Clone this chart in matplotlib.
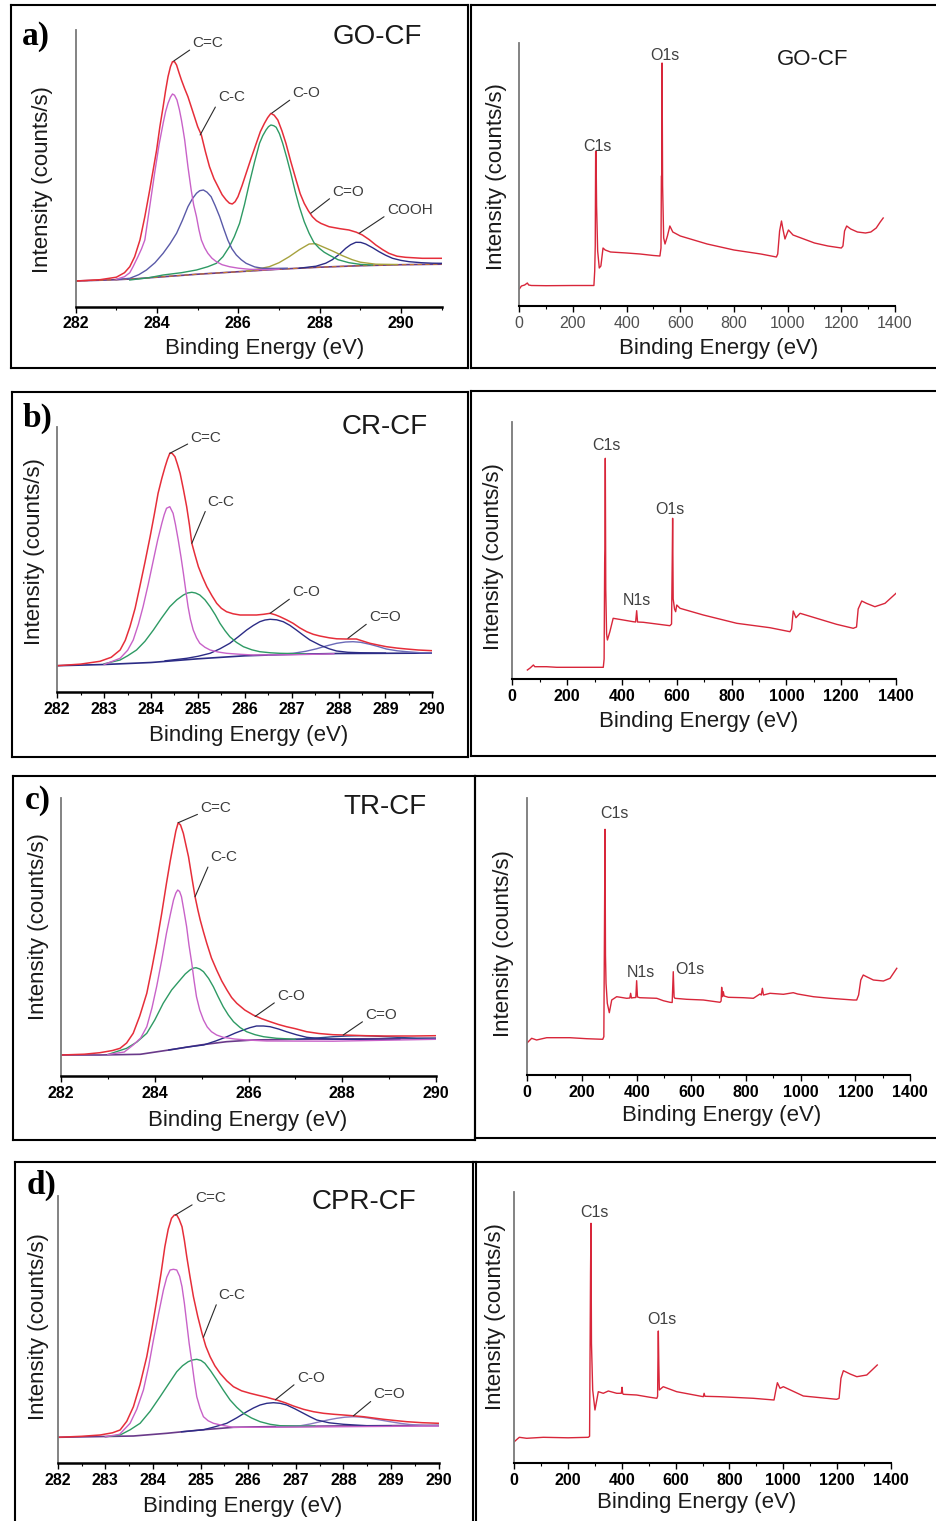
import matplotlib
matplotlib.use('Agg')
import matplotlib.pyplot as plt
from matplotlib.lines import Line2D

plt.rcParams['font.family'] = ['Liberation Sans', 'DejaVu Sans']

# ---------------- data (intensity in arbitrary units) ----------------
# Panel a: GO-CF C1s
A_BASE_E = [282, 283, 283.5, 284, 284.5, 285, 286, 287, 288, 289, 290, 291]
A_BASE_I = [25.7, 27, 28, 29.5, 31, 32.5, 35, 37.5, 39.5, 41, 42, 42.5]
A_ENV_E = [282.0, 282.6, 283.0, 283.2, 283.33, 283.45, 283.58, 283.70, 283.82, 283.99, 284.07, 284.15,
           284.21, 284.27, 284.33, 284.38, 284.43, 284.48, 284.54, 284.60, 284.68, 284.76, 284.84,
           284.92, 285.00, 285.09, 285.19, 285.29, 285.40, 285.50, 285.60, 285.70, 285.78, 285.85,
           285.92, 285.99, 286.09, 286.19, 286.31, 286.44, 286.54, 286.64, 286.72, 286.80, 286.88,
           286.97, 287.07, 287.17, 287.29, 287.42, 287.52, 287.62, 287.72, 287.82, 287.92, 288.03,
           288.23, 288.50, 288.72, 288.90, 289.05, 289.22, 289.38, 289.55, 289.70, 289.90, 290.11,
           290.52, 291.0]
A_ENV_I = [25.7, 27, 29.5, 34, 40, 50, 66.7, 90, 116.7, 156.7, 180, 200,
           216, 230, 240, 245, 245, 241.7, 234, 226.7, 218, 210, 200,
           190, 180, 171.7, 155, 140, 128, 120, 112, 106.7, 103.5, 102.7,
           105, 110, 121, 133.3, 148, 163.3, 175, 183.3, 189, 193.3, 191.5,
           186.7, 176, 163.3, 145, 126.7, 113, 103.3, 96, 90, 86, 83.3,
           80, 78, 76.7, 74.5, 71.7, 67, 61.7, 57, 53.4, 50.5, 49.4,
           48.4, 48.4]
A_CC1_E = [283.0, 283.2, 283.33, 283.41, 283.53, 283.62, 283.70, 283.82, 283.94, 284.05, 284.15,
           284.21, 284.27, 284.33, 284.38, 284.43, 284.49, 284.55, 284.60, 284.64, 284.68, 284.76,
           284.84, 284.90, 284.97, 285.03, 285.09, 285.17, 285.25, 285.35, 285.46, 285.60, 285.78,
           286.00, 286.27, 286.6, 287.0]
A_CC1_I = [27.5, 30, 34, 40, 50, 58, 66.7, 100, 133.4, 162, 183.4,
           195, 203.4, 209.5, 212.7, 211.5, 206.7, 197, 186.7, 177, 166.7, 140,
           116.7, 102, 90, 77, 66.7, 59, 53.4, 48.5, 45, 42, 40,
           38.5, 37.4, 37, 37.5]
A_CC2_E = [283.0, 283.33, 283.55, 283.74, 283.95, 284.15, 284.32, 284.48, 284.62, 284.76, 284.87,
           284.97, 285.05, 285.14, 285.23, 285.33, 285.43, 285.54, 285.64, 285.74, 285.84, 285.95,
           286.07, 286.19, 286.40, 286.60, 286.9, 287.2]
A_CC2_I = [27.2, 28.4, 32, 36.7, 44, 53.4, 63, 73.4, 86, 100, 108,
           113.4, 116, 116.7, 114.5, 110, 101, 90, 78, 66.7, 58, 51.7,
           47, 43.4, 39.8, 38.4, 38.3, 38.5]
A_CO_E = [283.33, 283.8, 284.15, 284.6, 284.97, 285.25, 285.46, 285.62, 285.78, 285.90, 286.03,
          286.15, 286.27, 286.40, 286.52, 286.60, 286.68, 286.74, 286.80, 286.87, 286.93, 287.01,
          287.09, 287.19, 287.29, 287.40, 287.50, 287.62, 287.74, 287.86, 287.99, 288.11, 288.23,
          288.45, 288.72, 289.0, 289.3]
A_CO_I = [26.7, 29, 31.7, 34, 36.7, 40, 43.4, 50, 60, 70, 83.4,
          102, 123.4, 145, 163.4, 171, 176.7, 180, 181.7, 181, 179.4, 173,
          163.4, 149, 133.4, 115, 100, 85, 73.4, 64, 58.4, 54.5, 51.7,
          47, 44, 42.3, 41.6]
A_CDO_E = [286.2, 286.76, 287.0, 287.25, 287.50, 287.74, 287.90, 288.07, 288.30, 288.56, 288.80,
           289.0, 289.38, 289.9]
A_CDO_I = [35.5, 40, 44, 50, 57, 62.7, 63, 60, 56, 51, 47, 44.5, 42.5, 42.2]
A_COOH_E = [287.5, 287.91, 288.15, 288.31, 288.50, 288.64, 288.76, 288.89, 289.01, 289.13, 289.30,
            289.46, 289.62, 289.79, 290.0, 290.2, 290.5, 290.77, 291.0]
A_COOH_I = [38.5, 40.5, 43.5, 47, 53, 58.4, 62, 64.4, 64.3, 62.7, 59,
            55, 51.5, 48.4, 46.3, 45, 44, 43.5, 43.4]

# Panel b: CR-CF C1s
B_BASE_E = [282, 283, 284, 285, 286, 287, 288, 290]
B_BASE_I = [26.6, 27.8, 29.8, 33.5, 36.5, 38, 38.8, 39.2]
B_ENV_E = [282.0, 282.5, 282.91, 283.15, 283.34, 283.45, 283.55, 283.66, 283.76, 283.87, 283.98,
           284.07, 284.15, 284.23, 284.30, 284.35, 284.40, 284.45, 284.51, 284.56, 284.62, 284.69,
           284.76, 284.82, 284.87, 284.94, 285.01, 285.10, 285.19, 285.30, 285.40, 285.50, 285.61,
           285.75, 285.90, 286.10, 286.25, 286.40, 286.54, 286.65, 286.75, 286.89, 287.03, 287.17,
           287.32, 287.46, 287.60, 287.80, 287.96, 288.15, 288.38, 288.50, 288.67, 288.85, 289.02,
           289.25, 289.45, 289.70, 290.0]
B_ENV_I = [26.6, 28.2, 31, 35, 42.3, 52, 65.6, 84, 105.6, 130, 155.6,
           178, 199, 214, 225.6, 233, 239, 239, 235.6, 228.5, 219, 203,
           185.6, 167, 149, 137, 125.6, 115, 105.6, 96.5, 89, 84, 80.6,
           78.5, 77.3, 77.3, 77.3, 78, 79, 77.5, 75.6, 72.5, 69, 64.5,
           60.6, 58, 56.3, 54.5, 53.5, 53.3, 53.3, 51.5, 49, 47.2, 45.6,
           44.2, 43.3, 42.3, 41.6]
B_CC1_E = [283.0, 283.34, 283.50, 283.62, 283.73, 283.83, 283.94, 284.05, 284.14, 284.23, 284.28,
           284.33, 284.40, 284.47, 284.52, 284.58, 284.64, 284.69, 284.74, 284.79, 284.84, 284.90,
           284.97, 285.04, 285.15, 285.26, 285.43, 285.61, 285.9, 286.18, 287.0, 287.9]
B_CC1_I = [27.8, 34, 42, 52.3, 68, 85.6, 108, 132.3, 152, 169, 177.5,
           184, 185.6, 179, 168, 152.3, 135, 119, 102, 85.6, 73, 62.3,
           54.5, 49, 45, 42.3, 40.3, 39, 38, 37.3, 37.5, 38.5]
B_CC2_E = [283.0, 283.34, 283.50, 283.69, 283.87, 284.05, 284.22, 284.40, 284.55, 284.69, 284.78,
           284.87, 284.95, 285.04, 285.15, 285.26, 285.37, 285.47, 285.58, 285.68, 285.82, 285.97,
           286.15, 286.32, 286.55, 286.75, 287.3]
B_CC2_I = [28.5, 32.3, 36.5, 42.3, 51, 62.3, 74, 85.6, 92.5, 97.3, 99.3,
           100, 99.3, 97.3, 92.5, 85.6, 77.5, 69, 61.5, 55.6, 50, 45.6,
           42.5, 40.6, 39.5, 39, 38.5]
B_CO_E = [284.3, 284.76, 285.0, 285.26, 285.47, 285.68, 285.86, 286.04, 286.18, 286.32, 286.43,
          286.54, 286.68, 286.82, 286.96, 287.10, 287.25, 287.39, 287.60, 287.80, 287.96, 288.2,
          288.45, 289.0]
B_CO_I = [31.5, 34, 36, 39, 43.5, 49, 55.5, 62.3, 66.8, 70.6, 72.3,
          73, 72.5, 70.6, 67, 62.3, 57, 52.3, 47.3, 43.5, 41.3, 40,
          39.6, 39.2]
B_CDO_E = [286.5, 287.03, 287.3, 287.53, 287.75, 287.96, 288.15, 288.31, 288.47, 288.67, 288.85,
           289.02, 289.25, 289.45, 289.74, 290.0]
B_CDO_I = [37.3, 39, 41, 43.5, 46.5, 49, 50.3, 50.6, 50, 48, 45.7, 43.3, 41.5, 40.6, 39.6, 39.4]

# Panel c: TR-CF C1s
C_BASE_E = [282, 282.83, 283.69, 284.40, 284.97, 285.53, 286.10, 286.97, 290]
C_BASE_I = [21, 21, 21.7, 26.7, 31, 34.3, 36, 36.7, 37.7]
C_ENV_E = [282.0, 282.5, 282.83, 283.1, 283.26, 283.40, 283.54, 283.68, 283.83, 283.94, 284.04,
           284.15, 284.25, 284.33, 284.40, 284.45, 284.50, 284.55, 284.61, 284.66, 284.72, 284.79,
           284.86, 284.92, 284.97, 285.04, 285.11, 285.21, 285.32, 285.43, 285.54, 285.64, 285.75,
           285.92, 286.10, 286.28, 286.46, 286.64, 286.81, 287.0, 287.24, 287.50, 287.80, 288.02,
           288.5, 288.88, 289.5, 290.0]
C_ENV_I = [21, 21.8, 23.3, 25.5, 27.7, 33, 42.7, 60, 82.7, 108, 132.7,
           163, 192.7, 215, 232.7, 245, 253.3, 251, 242.7, 232, 219.3, 199,
           179.3, 166, 156, 144, 132.7, 118, 106, 95, 86, 78.5, 72.7,
           66, 61, 57.3, 54.3, 51.5, 49.3, 47.3, 44.3, 42.5, 41.3, 41,
           40.3, 40, 40, 40.3]
C_CC1_E = [283.0, 283.35, 283.54, 283.70, 283.83, 283.94, 284.04, 284.15, 284.25, 284.33, 284.40,
           284.45, 284.49, 284.53, 284.57, 284.62, 284.68, 284.73, 284.79, 284.84, 284.89, 284.96,
           285.04, 285.12, 285.21, 285.32, 285.46, 285.7, 285.96, 286.39, 287.81, 290.0]
C_CC1_I = [21.5, 24, 31, 38, 49.3, 68, 89.3, 116, 142.7, 161, 176,
           183, 186, 184.5, 179.3, 166, 149.3, 131, 112.7, 95, 79.3, 66,
           56, 49, 44.3, 41, 38.7, 37, 36, 35, 34.8, 36.7]
C_CC2_E = [283.0, 283.40, 283.62, 283.83, 284.00, 284.18, 284.36, 284.54, 284.65, 284.75, 284.82,
           284.88, 284.96, 285.04, 285.15, 285.25, 285.35, 285.46, 285.57, 285.68, 285.82, 285.96,
           286.14, 286.32, 286.6, 287.0]
C_CC2_I = [21.5, 27.7, 34, 42.7, 56, 72.7, 86, 96, 102, 106, 107.8,
           108.3, 107, 104.3, 97.5, 89.3, 79.5, 69.3, 61, 54.3, 48.5, 44.3,
           41.3, 39.3, 37.7, 36.8]
C_CO_E = [284.3, 284.7, 285.04, 285.30, 285.54, 285.72, 285.89, 286.03, 286.17, 286.32, 286.46,
          286.64, 286.81, 287.02, 287.24, 287.5, 287.8, 288.17, 289.23]
C_CO_I = [26, 29, 31, 35, 39.3, 43, 46, 48.3, 50, 50, 49.3,
          47, 44.3, 41.3, 38.7, 37.5, 36.8, 36.7, 36.7]
C_CDO_E = [287.0, 287.4, 287.81, 288.1, 288.38, 288.65, 288.95, 289.25, 289.59, 290.0]
C_CDO_I = [36.7, 37.8, 39.3, 40, 40.3, 40, 39.3, 38.5, 37.7, 37.7]

# Panel d: CPR-CF C1s
D_BASE_E = [282, 283.59, 284.29, 284.99, 285.69, 286.39, 287.79, 290]
D_BASE_I = [26, 27.3, 30, 33.3, 36, 36.6, 37.3, 38]
D_ENV_E = [282.0, 282.5, 282.89, 283.15, 283.31, 283.45, 283.59, 283.73, 283.87, 283.98, 284.08,
           284.17, 284.25, 284.32, 284.39, 284.45, 284.50, 284.55, 284.61, 284.66, 284.71, 284.78,
           284.85, 284.94, 285.03, 285.11, 285.20, 285.30, 285.41, 285.55, 285.69, 285.86, 286.04,
           286.21, 286.39, 286.50, 286.60, 286.78, 286.95, 287.16, 287.37, 287.58, 287.80, 288.0,
           288.21, 288.42, 288.63, 288.84, 289.08, 289.33, 289.65, 290.0]
D_ENV_I = [26, 27, 28.3, 30.5, 33.3, 42, 56.6, 79, 106.6, 135, 163.3,
           190, 216.6, 234, 245, 248.3, 248.3, 244, 236.6, 223, 206.6, 186,
           166.6, 147, 130, 117, 106.6, 97.5, 90, 82.5, 76.6, 72.5, 70,
           68, 66, 64.5, 63.3, 60.5, 57.3, 54, 51.6, 50, 49, 48.3,
           47.5, 46.6, 45.3, 44, 42.8, 41.6, 40.6, 40]
D_CC1_E = [283.0, 283.3, 283.52, 283.66, 283.80, 283.91, 284.01, 284.12, 284.22, 284.29, 284.36,
           284.43, 284.50, 284.56, 284.61, 284.66, 284.71, 284.76, 284.82, 284.87, 284.92, 284.99,
           285.06, 285.16, 285.27, 285.45, 285.69, 286.39, 290.0]
D_CC1_I = [26.5, 29, 40, 54, 73.3, 97, 123.3, 150, 173.3, 186, 193.3,
           194, 193.3, 187, 176.6, 160, 140, 120, 100, 82, 66.6, 55,
           46.6, 42.5, 40, 38, 36, 36, 37.3]
D_CC2_E = [283.0, 283.31, 283.52, 283.73, 283.94, 284.15, 284.33, 284.50, 284.62, 284.74, 284.83,
           284.92, 285.01, 285.09, 285.21, 285.34, 285.48, 285.62, 285.76, 285.90, 286.07, 286.25,
           286.46, 286.67, 287.0, 287.4]
D_CC2_I = [26.5, 28.3, 33.5, 40, 52, 66.6, 79.5, 91.6, 97.5, 101.6, 103.3,
           104, 102.8, 100, 92.5, 83.3, 73, 63.3, 56, 50, 45.3, 41.6,
           39, 37.6, 37.2, 37.2]
D_CO_E = [284.6, 285.06, 285.30, 285.55, 285.76, 285.97, 286.11, 286.25, 286.39, 286.53, 286.67,
          286.81, 286.98, 287.16, 287.30, 287.44, 287.7, 288.0, 288.49, 289.0]
D_CO_I = [31.5, 33.5, 36.5, 40, 45.5, 51.6, 55.3, 58.3, 60, 60.6, 60,
          58.3, 54.5, 50, 46.5, 43.3, 40.5, 39, 37.6, 37.5]
D_CDO_E = [286.6, 287.09, 287.30, 287.51, 287.70, 287.86, 288.03, 288.21, 288.38, 288.56, 288.77,
           288.98, 289.19, 289.39, 289.74, 290.0]
D_CDO_I = [36.8, 37.5, 39.3, 41.6, 43.6, 45, 46.1, 46.6, 46.2, 45, 43.3,
           41.6, 40, 38.8, 37.7, 37.5]

# Survey spectra
SA_E = [0, 8, 20, 30, 35, 45, 100, 200, 278, 281, 283, 284.5, 286, 288, 292, 298, 304, 312, 320, 340,
        400, 450, 500, 524, 528, 529.5, 531, 532, 534, 538, 543, 552, 561, 572, 600, 650, 700, 800,
        900, 958, 963, 970, 977, 983, 990, 997, 1003, 1020, 1100, 1150, 1200, 1206, 1212, 1220, 1235,
        1260, 1290, 1310, 1330, 1345, 1356]
SA_I = [17, 20, 21, 23, 21, 20.5, 20.3, 20.5, 20.5, 35, 60, 154, 155, 100, 55, 38, 40, 58, 56, 54,
        53, 52, 50.5, 50, 58, 130, 130, 243, 120, 68, 62, 70, 80, 74, 70, 66, 62, 56,
        52, 49, 52, 75, 85, 76, 67, 72, 76, 71, 63, 60, 58, 60, 75, 80, 77,
        74, 73, 74, 78, 84, 88]
SB_E = [55, 65, 77, 82, 125, 162, 250, 332, 335, 337, 338, 339.3, 341, 344, 347, 356, 368, 405, 441,
        450, 453.8, 457, 478, 575, 581, 583.5, 585, 587, 592, 596, 600, 612, 697, 819, 940, 1013, 1019,
        1025, 1035, 1050, 1183, 1244, 1256, 1262, 1275, 1292, 1323, 1360, 1400]
SB_I = [9, 11, 14, 12.3, 12.3, 11.7, 11.7, 11.7, 20, 116, 130, 220.7, 90, 45, 39, 47.3, 60.7, 59, 57.3,
        57, 68.3, 57, 56.7, 53.3, 55, 117, 160.7, 80, 70, 67.3, 74, 70.7, 64, 55.7, 51.3, 47.3, 50,
        68, 61.3, 65.7, 54.7, 50.7, 52, 70, 78, 75.7, 72.3, 75.7, 85.7]
SC_E = [0, 16, 34, 71, 156, 217, 276, 280, 282.5, 284.3, 286, 288, 292.7, 300, 308.8, 327, 363.7, 375,
        378, 381, 387, 397, 400, 403, 411.6, 473.5, 497.6, 522, 530, 534, 537, 540, 583, 644, 705, 709,
        711, 714, 717, 720, 735.5, 790, 827, 851, 856, 860, 864, 888, 937, 973, 989, 1046.5, 1107.5,
        1193, 1205, 1212, 1220, 1229, 1241, 1266, 1302.6, 1327, 1351.6]
SC_I = [32.3, 36.7, 35, 37.3, 37.3, 36.3, 35.7, 38.3, 155, 245.7, 120, 91.7, 71.7, 62.3, 75, 78.3, 76.7, 77,
        81.7, 77, 77.3, 77.5, 94.3, 78, 77.3, 76.7, 74.3, 72.7, 72.5, 103.3, 78, 76.7, 75.7, 75, 72.7, 74,
        87.7, 78.3, 83.3, 79, 77.7, 77.3, 76.7, 81, 80, 86.7, 80, 81.7, 80.7, 82.3, 81, 78.3, 76.7,
        75, 75, 80, 95, 100, 98.3, 95, 94, 96.7, 106.7]
SD_E = [0, 10, 18.6, 46, 108, 200, 275, 280, 283.5, 285.3, 287, 291.6, 300, 312.5, 331, 349.7, 381, 398,
        400.7, 403, 405.5, 455, 505, 530, 533, 534.5, 535.7, 537.5, 539.5, 554, 604, 703, 706, 709, 765,
        889, 966, 972, 978.5, 988.5, 1000.7, 1075, 1199, 1208, 1215, 1224, 1249, 1274, 1311, 1350]
SD_I = [21.6, 24, 26, 25, 26, 25.5, 26, 27, 190, 240, 120, 73.3, 53.3, 71.6, 70, 72.3, 70, 70,
        76, 70, 69, 68.3, 66, 65, 67, 110, 132.3, 100, 73.3, 76.6, 71.6, 66.6, 70, 67, 66.6,
        65, 63.3, 72, 80.6, 75, 76.6, 67.3, 64, 65, 85, 92.6, 89.3, 86.6, 88.3, 98.3]

HR_TICKS_AC = [282, 284, 286, 288, 290]
HR_TICKS_BD = [282, 283, 284, 285, 286, 287, 288, 289, 290]
SURVEY_TICKS = [0, 200, 400, 600, 800, 1000, 1200, 1400]

# ---------------- figure helpers ----------------
W, H = 937, 1521
fig = plt.figure(figsize=(W / 100, H / 100), dpi=100)
fig.patch.set_facecolor('white')


def add_ax(l, t, r, b):
    ax = fig.add_axes([l / W, 1 - b / H, (r - l) / W, (b - t) / H])
    ax.set_ylim(0, b - t)
    ax.patch.set_alpha(0)
    return ax


def ftext(x, y, s, **kw):
    kw.setdefault('va', 'center')
    return fig.text(x / W, 1 - y / H, s, **kw)


def frame(l, t, r, b, lw=1.5):
    for xs, ys in [([l, r], [t, t]), ([l, r], [b, b]), ([l, l], [t, b]), ([r, r], [t, b])]:
        fig.add_artist(Line2D([x / W for x in xs], [1 - y / H for y in ys],
                              color='black', lw=lw, transform=fig.transFigure))


def style(ax, xlim, ticks, minor, bold=True, lab_color='black', bottom_lw=1.8):
    ax.set_xlim(*xlim)
    for s in ['top', 'right']:
        ax.spines[s].set_visible(False)
    ax.spines['left'].set_color('#7a7a7a')
    ax.spines['left'].set_linewidth(1.3)
    ax.spines['bottom'].set_color('black')
    ax.spines['bottom'].set_linewidth(bottom_lw)
    ax.set_yticks([])
    ax.set_xticks(ticks, [str(t) for t in ticks], fontweight='bold' if bold else 'normal',
                  color=lab_color, fontsize=11.5)
    ax.set_xticks(minor, minor=True)
    ax.tick_params(axis='x', which='major', direction='out', length=4, width=1, pad=3)
    ax.tick_params(axis='x', which='minor', direction='out', length=2.5, width=0.8)


LAB_KW = dict(fontsize=11, color='#3c3c3c', ha='left', va='center')


def label(ax, s, tip, txt):
    ax.annotate(s, xy=tip, xytext=txt, **LAB_KW,
                arrowprops=dict(arrowstyle='-', color='#2a2a2a', lw=0.8,
                                shrinkA=0, shrinkB=0, relpos=(0.0, 0.15)))


RED = '#e62e3a'
PINK = '#c862c8'
GREEN = '#2e9a64'
SLATE = '#5a5aa8'
NAVY = '#2c2c86'
OLIVE = '#a6a23e'
BASEC = '#6a3a8a'
SRED = '#d8263a'
LW = 1.0

# ---------------- panel a ----------------
ax = add_ax(75.7, 30, 441.7, 306.7)
style(ax, (282, 291), HR_TICKS_AC, [283, 285, 287, 289, 291])
ax.plot(A_BASE_E, A_BASE_I, color=BASEC, lw=1.2)
ax.plot(A_BASE_E, A_BASE_I, color='#c87830', lw=0.8, ls=(0, (4, 3)))
ax.plot(A_COOH_E, A_COOH_I, color=NAVY, lw=LW)
ax.plot(A_CDO_E, A_CDO_I, color=OLIVE, lw=LW)
ax.plot(A_CO_E, A_CO_I, color=GREEN, lw=LW)
ax.plot(A_CC2_E, A_CC2_I, color=SLATE, lw=LW)
ax.plot(A_CC1_E, A_CC1_I, color=PINK, lw=LW)
ax.plot(A_ENV_E, A_ENV_I, color=RED, lw=1.1)
label(ax, 'C=C', (284.41, 245.7), (284.87, 263.4))
label(ax, 'C-C', (285.06, 171.7), (285.50, 209.4))
label(ax, 'C-O', (286.82, 193.5), (287.33, 213.4))
label(ax, 'C=O', (287.78, 93.4), (288.31, 115))
label(ax, 'COOH', (288.97, 73.4), (289.65, 96.7))

ax = add_ax(519.3, 43.3, 895, 306)
style(ax, (0, 1400), SURVEY_TICKS, [100, 300, 500, 700, 900, 1100, 1300], bold=False,
      lab_color='#505050', bottom_lw=1.5)
ax.plot(SA_E, SA_I, color=SRED, lw=1.0)

# ---------------- panel b ----------------
ax = add_ax(57.3, 426.7, 432.3, 692.3)
style(ax, (282, 290), HR_TICKS_BD, [282.5 + i for i in range(8)])
ax.plot(B_BASE_E, B_BASE_I, color=NAVY, lw=1.2)
ax.plot(B_CDO_E, B_CDO_I, color='#6a6ab8', lw=LW)
ax.plot(B_CO_E, B_CO_I, color=NAVY, lw=LW)
ax.plot(B_CC2_E, B_CC2_I, color=GREEN, lw=LW)
ax.plot(B_CC1_E, B_CC1_I, color=PINK, lw=LW)
ax.plot(B_ENV_E, B_ENV_I, color=RED, lw=1.1)
label(ax, 'C=C', (284.40, 239), (284.84, 254.6))
label(ax, 'C-C', (284.87, 149), (285.20, 190.6))
label(ax, 'C-O', (286.54, 79), (287.01, 100))
label(ax, 'C=O', (288.2, 54), (288.65, 75))

ax = add_ax(512.3, 421.7, 896, 679)
style(ax, (0, 1400), SURVEY_TICKS, [100, 300, 500, 700, 900, 1100, 1300], bottom_lw=1.5)
ax.plot(SB_E, SB_I, color=SRED, lw=1.0)

# ---------------- panel c ----------------
ax = add_ax(61, 798.3, 436, 1076)
style(ax, (282, 290), HR_TICKS_AC, [283, 285, 287, 289])
ax.plot(C_BASE_E, C_BASE_I, color=BASEC, lw=1.2)
ax.plot(C_CDO_E, C_CDO_I, color='#2a4a8a', lw=LW)
ax.plot(C_CO_E, C_CO_I, color=NAVY, lw=LW)
ax.plot(C_CC2_E, C_CC2_I, color=GREEN, lw=LW)
ax.plot(C_CC1_E, C_CC1_I, color=PINK, lw=LW)
ax.plot(C_ENV_E, C_ENV_I, color=RED, lw=1.1)
label(ax, 'C=C', (284.50, 253.3), (284.97, 267.7))
label(ax, 'C-C', (284.86, 179.3), (285.18, 218.7))
label(ax, 'C-O', (286.14, 59.5), (286.61, 80))
label(ax, 'C=O', (288.02, 41), (288.49, 61))

ax = add_ax(527.3, 798.3, 910, 1075)
style(ax, (0, 1400), SURVEY_TICKS, [100, 300, 500, 700, 900, 1100, 1300], bottom_lw=1.5)
ax.plot(SC_E, SC_I, color=SRED, lw=1.0)

# ---------------- panel d ----------------
ax = add_ax(57.7, 1196, 438.7, 1463.3)
style(ax, (282, 290), HR_TICKS_BD, [282.5 + i for i in range(8)])
ax.plot(D_BASE_E, D_BASE_I, color=BASEC, lw=1.2)
ax.plot(D_CDO_E, D_CDO_I, color='#8a7ac0', lw=LW)
ax.plot(D_CO_E, D_CO_I, color=NAVY, lw=LW)
ax.plot(D_CC2_E, D_CC2_I, color=GREEN, lw=LW)
ax.plot(D_CC1_E, D_CC1_I, color=PINK, lw=LW)
ax.plot(D_ENV_E, D_ENV_I, color=RED, lw=1.1)
label(ax, 'C=C', (284.47, 248.3), (284.88, 265))
label(ax, 'C-C', (285.06, 126), (285.37, 168.3))
label(ax, 'C-O', (286.57, 63.5), (287.02, 85.6))
label(ax, 'C=O', (288.21, 47.5), (288.63, 69))

ax = add_ax(514.3, 1191.7, 890.7, 1463.3)
style(ax, (0, 1400), SURVEY_TICKS, [100, 300, 500, 700, 900, 1100, 1300], bottom_lw=1.5)
ax.plot(SD_E, SD_I, color=SRED, lw=1.0)

# ---------------- texts ----------------
XL = 'Binding Energy (eV)'
YL = 'Intensity (counts/s)'
for (x, y) in [(264.5, 348.3), (718.8, 348.3), (248.3, 735.7), (698.3, 721.7),
               (247.3, 1120.7), (721.7, 1116), (242.5, 1506.7), (696.7, 1502.7)]:
    ftext(x, y, XL, fontsize=16, ha='center', color='#1a1a1a')
for (x, y) in [(43, 180), (496.7, 176.7), (35, 551.7), (493.3, 556.7),
               (38.3, 926.7), (503.3, 943.3), (38.3, 1326.7), (495, 1316.7)]:
    ftext(x, y, YL, fontsize=16, ha='center', rotation=90, color='#1a1a1a')

for (x, y, s) in [(333, 37.5, 'GO-CF'), (341.7, 427.5, 'CR-CF'), (343.3, 806.7, 'TR-CF'),
                  (311.7, 1201.7, 'CPR-CF')]:
    ftext(x, y, s, fontsize=20, ha='left', color='#1a1a1a')
ftext(777, 59.3, 'GO-CF', fontsize=16, ha='left', color='#1a1a1a')

for (x, y, s) in [(21.7, 36.7, 'a)'), (23, 418, 'b)'), (25, 800, 'c)'), (27, 1185, 'd)')]:
    ftext(x, y, s, fontsize=24, ha='left', fontweight='bold', family='Liberation Serif')

SK = dict(fontsize=11.5, ha='left', color='#404040')
for (x, y, s) in [(583, 146.7, 'C1s'), (650, 56, 'O1s'),
                  (592.7, 446, 'C1s'), (622.7, 601, 'N1s'), (655, 509.3, 'O1s'),
                  (600.7, 813.3, 'C1s'), (626.7, 972.3, 'N1s'), (675, 969, 'O1s'),
                  (580, 1212.3, 'C1s'), (647.3, 1320, 'O1s')]:
    ftext(x, y, s, **SK)

# ---------------- panel frames ----------------
frame(11, 5, 468.5, 368)
frame(471.5, 5, 945, 368)
frame(12, 391.5, 468, 756.5)
frame(471, 391, 945, 756)
frame(13, 776, 475, 1140)
frame(475, 776, 945, 1138)
frame(15, 1162, 476.5, 1530)
frame(473.5, 1162, 945, 1530)

fig.savefig('out.png', dpi=100)
